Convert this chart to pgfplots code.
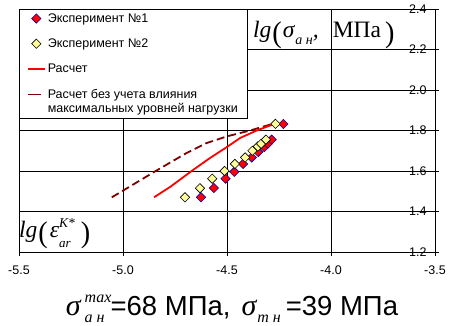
\documentclass[border=0pt]{standalone}
\usepackage{fontspec}
\setmainfont{Liberation Sans}
\newfontfamily\tnr{Liberation Serif}
\usepackage{graphicx}
\usepackage{pgfplots}
\pgfplotsset{compat=1.18}

\definecolor{dred}{RGB}{128,0,0}
\definecolor{lyel}{RGB}{255,255,153}
\definecolor{navyb}{RGB}{0,0,170}

\newcommand{\bp}[1]{\raisebox{-0.19em}{\scalebox{1.2}[1.27]{\upshape #1}}}

\pgfplotstableread{
x y
-4.625 1.470
-4.563 1.516
-4.507 1.562
-4.465 1.596
-4.423 1.635
-4.381 1.667
-4.350 1.694
-4.321 1.718
-4.304 1.735
-4.285 1.755
-4.229 1.832
}\expone

\pgfplotstableread{
x y
-4.702 1.470
-4.630 1.515
-4.571 1.562
-4.512 1.600
-4.462 1.635
-4.413 1.667
-4.378 1.700
-4.352 1.721
-4.336 1.734
-4.313 1.755
-4.267 1.833
}\exptwo

\begin{document}
\begin{tikzpicture}
\begin{axis}[
 at={(0pt,0pt)}, anchor=south west,
 scale only axis, width=416pt, height=243pt,
 xmin=-5.5, xmax=-3.5, ymin=1.2, ymax=2.4,
 xtick={-5.5,-5,-4.5,-4,-3.5},
 xticklabels={-5.5,-5.0,-4.5,-4.0,-3.5},
 ytick={1.2,1.4,1.6,1.8,2.0,2.2,2.4},
 yticklabels={1.2,1.4,1.6,1.8,2.0,2.2,2.4},
 xtick pos=left, ytick pos=right, yticklabel pos=right,
 tick align=outside, major tick length=4pt,
 tick style={black, line width=0.8pt},
 grid=major, major grid style={black, line width=0.8pt},
 axis line style={black, line width=0.8pt},
 ticklabel style={font=\fontsize{12.5}{14}\selectfont},
 xticklabel style={yshift=-6pt},
 yticklabel style={anchor=east, xshift=-9pt},
 legend style={at={(0,1)}, anchor=north west, draw=black, fill=white,
   line width=0.8pt, font=\fontsize{12.5}{14.5}\selectfont, row sep=11pt,
   inner xsep=7.5pt, inner ysep=2pt, cells={align=left}},
 legend cell align=left,
]
\addlegendimage{only marks, mark=square*, mark size=3.3pt, mark options={rotate=45, fill=red, draw=navyb, line width=0.6pt}}
\addlegendentry{Эксперимент №1}
\addlegendimage{only marks, mark=square*, mark size=3.3pt, mark options={rotate=45, fill=lyel, draw=black, line width=0.6pt}}
\addlegendentry{Эксперимент №2}
\addlegendimage{red, line width=1.8pt}
\addlegendentry{Расчет}
\addlegendimage{legend image code/.code={\draw[dred, line width=1.8pt] (0pt,7pt) -- (13pt,7pt);}}
\addlegendentry{Расчет без учета влияния\\максимальных уровней нагрузки}

\addplot[dred, line width=1.8pt, dash pattern=on 8pt off 4pt, forget plot] coordinates {
(-5.054,1.470) (-5.000,1.503) (-4.846,1.598) (-4.694,1.689) (-4.598,1.738) (-4.500,1.771) (-4.389,1.800) (-4.277,1.834)
};
\addplot[red, line width=1.8pt, forget plot] coordinates {
(-4.851,1.470) (-4.774,1.521) (-4.662,1.606) (-4.582,1.664) (-4.501,1.718) (-4.437,1.763) (-4.357,1.800) (-4.269,1.834)
};
\addplot[only marks, mark=square*, mark size=3.3pt, mark options={rotate=45, fill=red, draw=navyb, line width=0.6pt}, forget plot] table {\expone};
\addplot[only marks, mark=square*, mark size=3.3pt, mark options={rotate=45, fill=lyel, draw=black, line width=0.6pt}, forget plot] table {\exptwo};

\node[anchor=base west, inner sep=0pt] at (rel axis cs:0.5625,0.881)
 {\tnr\fontsize{23.5}{24}\selectfont\itshape lg\hspace{1pt}\bp{(}\hspace{1pt}σ\hspace{1pt}\raisebox{-7pt}{\fontsize{14}{14}\selectfont а н},\hspace{14pt}\upshape МПа\hspace{4pt}\bp{)}};
\node[anchor=base west, inner sep=0pt] at (rel axis cs:0.0,0.058)
 {\tnr\fontsize{23.5}{24}\selectfont\itshape lg\hspace{1pt}\bp{(}\hspace{2pt}ε\rlap{\raisebox{-10pt}{\fontsize{13}{13}\selectfont ar}}\raisebox{10pt}{\fontsize{13.5}{13.5}\selectfont K*}\hspace{6pt}\bp{)}};
\end{axis}
\node[anchor=base, inner sep=0pt] at (213pt,-64pt)
 {{\tnr\fontsize{30}{30}\selectfont\itshape σ\hspace{4pt}\rlap{\raisebox{13pt}{\fontsize{16}{16}\selectfont max}}\raisebox{-7pt}{\fontsize{16}{16}\selectfont а н}\hspace{6pt}}\fontsize{27.5}{28}\selectfont=68 МПа,\hspace{11pt}{\tnr\fontsize{30}{30}\selectfont\itshape σ\hspace{1pt}\raisebox{-7pt}{\fontsize{16}{16}\selectfont т н}\hspace{5pt}}=39 МПа};
\pgfresetboundingbox
\path (-19pt,-74pt) rectangle (434pt,252pt);
\end{tikzpicture}
\end{document}
